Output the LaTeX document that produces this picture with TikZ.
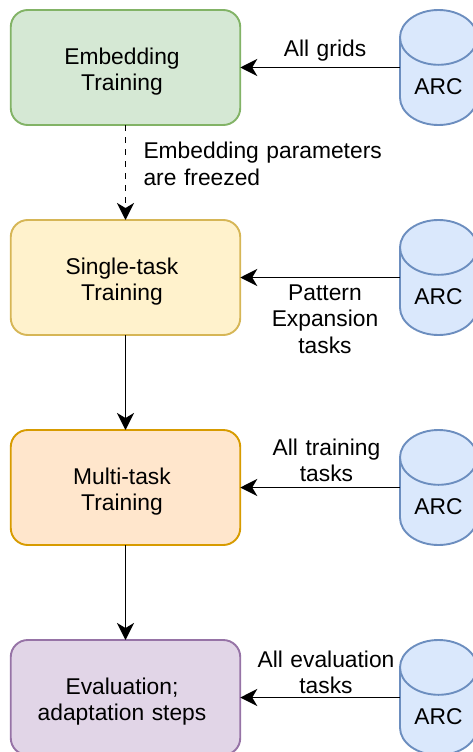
\documentclass[tikz,border=0pt]{standalone}
\usepackage{fontspec}
\setmainfont{Liberation Sans}
\usetikzlibrary{shapes.geometric,arrows.meta}
\tikzstyle{trainElt} = [draw, line width=1.9pt, outer sep=0pt, rounded corners=17pt, minimum width=229.5pt,
  minimum height=115pt, text width=200pt, text centered, anchor=north]
\tikzstyle{arcElt} = [draw=arcline, fill=arcfill, line width=1.9pt, outer sep=0pt, cylinder, shape border rotate=90,
  shape aspect=1, minimum width=77pt, minimum height=115pt, anchor=shape center]
\tikzstyle{texto} = [text width=160pt, text centered]
\tikzstyle{line} = [draw, line width=1.9pt, color=black, -{Stealth[length=17pt,width=17pt,inset=5pt]}]
\definecolor{arcfill}{HTML}{DAE8FC}
\definecolor{arcline}{HTML}{6C8EBF}
\definecolor{embfill}{HTML}{D5E8D4}
\definecolor{embline}{HTML}{82B366}
\definecolor{singfill}{HTML}{FFF2CC}
\definecolor{singline}{HTML}{D6B656}
\definecolor{multfill}{HTML}{FFE6CC}
\definecolor{multline}{HTML}{D79B00}
\definecolor{evalfill}{HTML}{E1D5E7}
\definecolor{evalline}{HTML}{9673A6}
\newcommand{\eltLine}[1]{\hspace*{-7pt}\raisebox{-4pt}[\height][\depth]{#1}}
\newcommand{\trainElt}[4]{node (p#1) [trainElt, fill=#2fill, draw=#2line]
  {\eltLine{#3}\\\eltLine{#4}}}
\newcommand{\arcElt}[1]{node (d#1) [arcElt] {\raisebox{2pt}{ARC}}}
\begin{document}
\begin{tikzpicture}[x=1pt, y=-1pt, font=\fontsize{22.8}{26.4}\selectfont]
  \clip (0,0) rectangle (473,752);

  % Draw diagram elements
  \path (125.5,10) \trainElt{1}{emb}{Embedding}{Training};
  \path (p1.south)+(0,95) \trainElt{2}{sing}{Single-task}{Training};
  \path (p2.south)+(0,95) \trainElt{3}{mult}{Multi-task}{Training};
  \path (p3.south)+(0,95) \trainElt{4}{eval}{Evaluation;}{adaptation steps};

  % Draw the ARC stores
  \path (438.5,67.5) \arcElt{1};
  \path (438.5,277.5) \arcElt{2};
  \path (438.5,487.5) \arcElt{3};
  \path (438.5,697.5) \arcElt{4};

  % Draw arrows between elements
  \path [line, dash pattern=on 6pt off 6pt] (p1.south) -- (p2.north);
  \path [line] (p2.south) -- (p3.north);
  \path [line] (p3.south) -- (p4.north);
  \path [line] (d1.west |- d1.shape center) -- (p1.east);
  \path [line] (d2.west |- d2.shape center) -- (p2.east);
  \path [line] (d3.west |- d3.shape center) -- (p3.east);
  \path [line] (d4.west |- d4.shape center) -- (p4.east);

  % Labels
  \node (l1) [texto] at (325,51) {All grids};
  \node (l2) [texto] at (325,319) {Pattern\\Expansion\\tasks};
  \node (l3) [texto] at (326.5,460.5) {All training\\tasks};
  \node (l4) [texto] at (326,672.5) {All evaluation\\tasks};
  \node (l5) [texto, text width=250pt, align=left, anchor=west] at (140,164) {Embedding parameters\\are freezed};
\end{tikzpicture}
\end{document}
